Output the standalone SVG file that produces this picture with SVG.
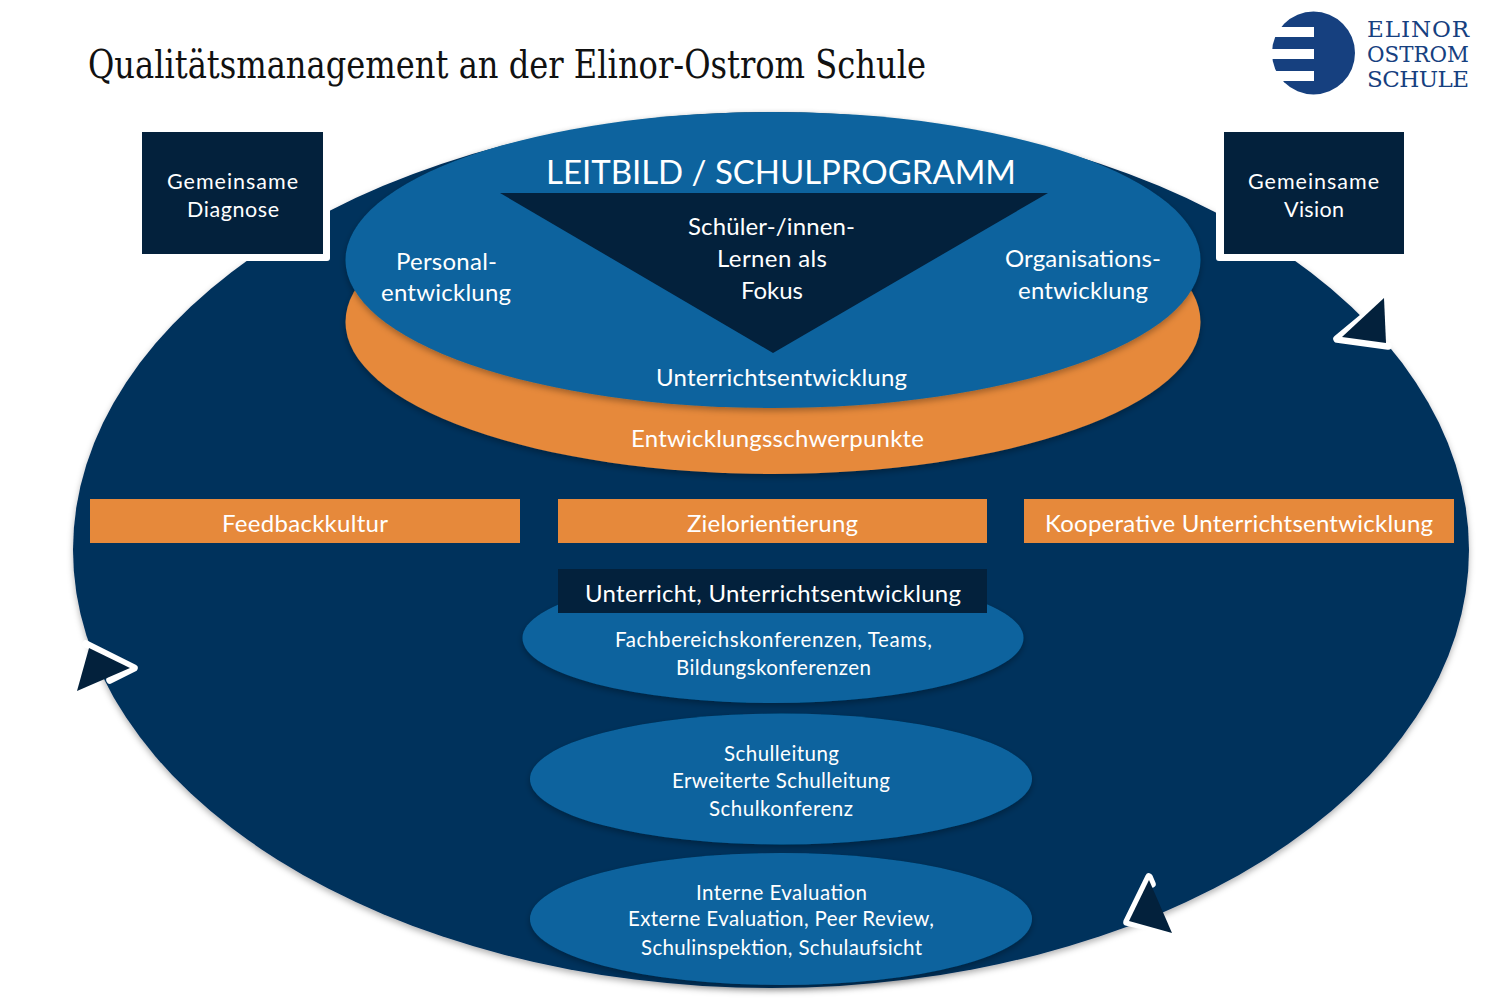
<svg xmlns="http://www.w3.org/2000/svg" width="1500" height="1001" viewBox="0 0 1500 1001">
<style>
text{font-family:"Lato","Open Sans","Liberation Sans",sans-serif;fill:#fff;text-anchor:middle}
.s20{font-size:21.5px}.s19{font-size:20.5px}.s23{font-size:24px}
.dark{fill:#03213c}.navy{fill:#04305c}.mid{fill:#0b649e}.org{fill:#e6893b}
.wl{fill:none;stroke:#fff;stroke-width:7.5;stroke-linejoin:round;stroke-linecap:round}
text.logo{font-family:"DejaVu Serif","Liberation Serif",serif;fill:#16407f;font-size:23px;text-anchor:start}
</style>
<defs><filter id="sh" x="-10%" y="-15%" width="120%" height="135%"><feDropShadow dx="0" dy="3" stdDeviation="3" flood-color="#000" flood-opacity=".3"/></filter></defs>
<rect width="1500" height="1001" fill="#fff"/>
<text x="507" y="78" style="font-family:'DejaVu Serif','Liberation Serif',serif;font-size:40px;fill:#111" textLength="838" lengthAdjust="spacingAndGlyphs">Qualitätsmanagement an der Elinor-Ostrom Schule</text>
<g id="logo">
<circle cx="1313.5" cy="53" r="41.5" fill="#16407f"/>
<rect x="1265" y="27" width="49" height="10" fill="#fff"/><rect x="1265" y="49" width="49" height="10" fill="#fff"/><rect x="1265" y="71" width="49" height="10" fill="#fff"/>
<text class="logo" x="1367" y="37" textLength="102">ELINOR</text>
<text class="logo" x="1367" y="62" textLength="102" lengthAdjust="spacingAndGlyphs">OSTROM</text>
<text class="logo" x="1367" y="87" textLength="102">SCHULE</text>
</g>
<g id="cycle">
<ellipse class="navy" cx="771" cy="550" rx="698" ry="438" filter="url(#sh)"/>
<rect x="100" y="100" width="230" height="161" rx="3" fill="#fff"/>
<rect x="1216" y="100" width="240" height="161" rx="3" fill="#fff"/>
</g>
<g id="diagnose"><rect class="dark" x="142" y="132" width="181" height="122"/>
<text class="s20" x="232.500" y="189" textLength="131">Gemeinsame</text><text class="s20" x="233" y="217" textLength="92">Diagnose</text></g>
<g id="vision"><rect class="dark" x="1224" y="132" width="180" height="122"/>
<text class="s20" x="1313.500" y="189" textLength="131">Gemeinsame</text><text class="s20" x="1314" y="217" textLength="60">Vision</text></g>
<g id="schwerpunkte"><ellipse class="org" cx="773" cy="322" rx="427.500" ry="152" filter="url(#sh)"/>
<text class="s23" x="777.500" y="447" textLength="293">Entwicklungsschwerpunkte</text></g>
<g id="leitbild"><ellipse class="mid" cx="773" cy="260" rx="427.500" ry="148" filter="url(#sh)"/>
<text x="781" y="184" style="font-size:33px" textLength="470">LEITBILD / SCHULPROGRAMM</text>
<text class="s23" x="446.500" y="270" textLength="101">Personal-</text><text class="s23" x="446" y="301" textLength="130">entwicklung</text>
<text class="s23" x="1083" y="267" textLength="156">Organisations-</text><text class="s23" x="1083" y="299" textLength="130">entwicklung</text>
<text class="s23" x="781.500" y="386" textLength="251">Unterrichtsentwicklung</text></g>
<g id="fokus"><polygon class="dark" points="500,193 1048,193 773,353"/>
<text class="s23" x="771.500" y="235" textLength="167">Schüler-/innen-</text><text class="s23" x="772" y="267" textLength="110">Lernen als</text><text class="s23" x="772" y="299" textLength="62">Fokus</text></g>
<g id="feedback"><rect class="org" x="90" y="499" width="430" height="44"/><text class="s23" x="305" y="532" textLength="166">Feedbackkultur</text></g>
<g id="ziel"><rect class="org" x="558" y="499" width="429" height="44"/><text class="s23" x="772.500" y="532" textLength="171">Zielorientierung</text></g>
<g id="kooperativ"><rect class="org" x="1024" y="499" width="430" height="44"/><text class="s23" x="1239" y="532" textLength="388">Kooperative Unterrichtsentwicklung</text></g>
<g id="konferenzen"><ellipse class="mid" cx="773" cy="638" rx="250.500" ry="65" filter="url(#sh)"/>
<text class="s19" x="773.500" y="647" textLength="317">Fachbereichskonferenzen, Teams,</text><text class="s19" x="773.500" y="675" textLength="195">Bildungskonferenzen</text></g>
<g id="unterricht"><rect class="dark" x="558" y="569" width="429" height="44"/><text class="s23" x="773" y="602" textLength="376">Unterricht, Unterrichtsentwicklung</text></g>
<g id="schulleitung"><ellipse class="mid" cx="781" cy="779" rx="251" ry="65.500" filter="url(#sh)"/>
<text class="s19" x="781.500" y="761" textLength="115">Schulleitung</text><text class="s19" x="781" y="788" textLength="218">Erweiterte Schulleitung</text><text class="s19" x="781" y="816" textLength="144">Schulkonferenz</text></g>
<g id="evaluation"><ellipse class="mid" cx="781" cy="919" rx="251" ry="66" filter="url(#sh)"/>
<text class="s19" x="781.500" y="900" textLength="171">Interne Evaluation</text><text class="s19" x="781" y="926" textLength="306">Externe Evaluation, Peer Review,</text><text class="s19" x="781.500" y="955" textLength="281">Schulinspektion, Schulaufsicht</text></g>
<g id="connectors">
<polyline class="wl" points="1384,300 1337,339 1388,346"/><polygon class="dark" points="1384,298 1386,343 1342,337"/>
<polyline class="wl" points="86,644 134,668 110,680"/><polygon class="dark" points="89,648 130,668 77,691"/>
<polyline class="wl" points="1170,932 1127,922 1149,877 1152,884"/><polygon class="dark" points="1149,880 1172,933 1129,921"/>
</g>
</svg>
